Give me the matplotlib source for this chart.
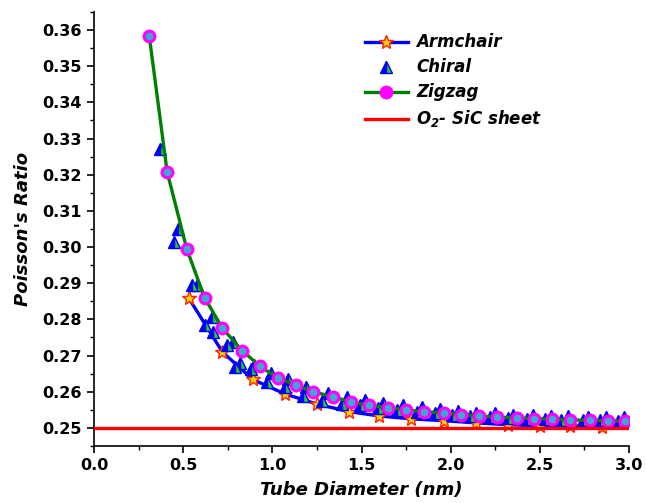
import numpy as np
import matplotlib
matplotlib.use('Agg')
import matplotlib.pyplot as plt
from matplotlib.ticker import MultipleLocator, FormatStrFormatter
from matplotlib.lines import Line2D

plt.rcParams['font.family'] = 'DejaVu Sans'
plt.rcParams['mathtext.default'] = 'regular'

# Armchair tubes (diameter nm, Poisson's ratio)
arm_d = [0.53, 0.72, 0.89, 1.07, 1.25, 1.43, 1.60, 1.78, 1.96, 2.14, 2.32, 2.50, 2.67, 2.85]
arm_v = [0.2860, 0.2710, 0.2634, 0.2594, 0.2566, 0.2545, 0.2533, 0.2525, 0.2520, 0.2514,
         0.2509, 0.2506, 0.2504, 0.2503]

# Chiral tubes
chi_d = [0.37, 0.45, 0.47, 0.55, 0.58, 0.62, 0.66, 0.67, 0.745, 0.78, 0.79, 0.82,
         0.88, 0.90, 0.97, 0.99, 1.07, 1.09, 1.17, 1.19, 1.28, 1.31, 1.39, 1.42,
         1.49, 1.52, 1.59, 1.62, 1.70, 1.73, 1.81, 1.84, 1.91, 1.94, 2.01, 2.04,
         2.11, 2.14, 2.22, 2.25, 2.32, 2.35, 2.43, 2.46, 2.53, 2.56, 2.62, 2.66,
         2.74, 2.77, 2.84, 2.87, 2.94, 2.97]
chi_v = [0.3270, 0.3015, 0.3050, 0.2895, 0.2895, 0.2785, 0.2807, 0.2765, 0.2730, 0.2738,
         0.2669, 0.2680, 0.2662, 0.2675, 0.2627, 0.2652, 0.2612, 0.2636, 0.2588, 0.2612,
         0.2574, 0.2596, 0.2567, 0.2585, 0.2562, 0.2577, 0.2555, 0.2570, 0.2549, 0.2563,
         0.2544, 0.2557, 0.2540, 0.2551, 0.2536, 0.2546, 0.2533, 0.2542, 0.2530, 0.2540,
         0.2528, 0.2537, 0.2526, 0.2535, 0.2524, 0.2533, 0.2523, 0.2532, 0.2522, 0.2531,
         0.2521, 0.2530, 0.2520, 0.2529]

# Zigzag tubes
zig_d = [0.31, 0.41, 0.52, 0.62, 0.72, 0.83, 0.93, 1.03, 1.13, 1.23, 1.34, 1.44, 1.54,
         1.65, 1.75, 1.85, 1.96, 2.06, 2.16, 2.26, 2.37, 2.47, 2.57, 2.67, 2.78, 2.88, 2.98]
zig_v = [0.3583, 0.3208, 0.2995, 0.2860, 0.2776, 0.2714, 0.2671, 0.2638, 0.2619, 0.2600,
         0.2586, 0.2572, 0.2563, 0.2556, 0.2550, 0.2545, 0.2541, 0.2537, 0.2533, 0.2530,
         0.2528, 0.2526, 0.2524, 0.2522, 0.2521, 0.2520, 0.2519]

# O2-SiC sheet value
sheet_d = [0.0, 3.0]
sheet_v = [0.25, 0.25]

fig = plt.figure(figsize=(6.46, 5.03), dpi=100)
ax = fig.add_axes([0.1455, 0.1133, 0.8282, 0.863])

star_kw = dict(marker='*', markersize=10, markerfacecolor='#ffd200',
               markeredgecolor='#ff2000', markeredgewidth=1.0)
tri_kw = dict(marker='^', markersize=8.5, fillstyle='left', markerfacecolor='#0000ff',
              markerfacecoloralt='#22cc22', markeredgecolor='#0000ff', markeredgewidth=1.0)
circ_kw = dict(marker='o', markersize=9.5, markerfacecolor='#ff00ff',
               markeredgecolor='#ff00ff', markeredgewidth=0.5)

ax.plot(arm_d, arm_v, color='#0000ff', linewidth=2.4, **star_kw)
ax.plot(chi_d, chi_v, linestyle='none', **tri_kw)
ax.plot(zig_d, zig_v, color='#008000', linewidth=2.4, **circ_kw)
# cyan highlight inside the zigzag circles
ax.plot(zig_d, zig_v, linestyle='none', marker='o', markersize=4.5,
        markerfacecolor='#3aa8d0', markeredgecolor='#3aa8d0', zorder=3)
ax.plot(sheet_d, sheet_v, color='#ff0000', linewidth=2.4, zorder=3)

ax.set_xlim(0.0, 3.0)
ax.set_ylim(0.245, 0.365)
ax.xaxis.set_major_locator(MultipleLocator(0.5))
ax.xaxis.set_minor_locator(MultipleLocator(0.25))
ax.yaxis.set_major_locator(MultipleLocator(0.01))
ax.yaxis.set_minor_locator(MultipleLocator(0.005))
ax.xaxis.set_major_formatter(FormatStrFormatter('%.1f'))
ax.yaxis.set_major_formatter(FormatStrFormatter('%.2f'))
ax.spines['top'].set_visible(False)
ax.spines['right'].set_visible(False)
ax.spines['left'].set_linewidth(1.2)
ax.spines['bottom'].set_linewidth(1.2)
ax.tick_params(which='major', direction='out', length=5, width=1.2, labelsize=11.5)
ax.tick_params(which='minor', direction='out', length=3, width=1.0)
for lab in ax.get_xticklabels() + ax.get_yticklabels():
    lab.set_fontweight('bold')

ax.set_xlabel('Tube Diameter (nm)', fontsize=13, fontweight='bold', fontstyle='italic', labelpad=6)
ax.set_ylabel("Poisson's Ratio", fontsize=13, fontweight='bold', fontstyle='italic', labelpad=8)

handles = [
    Line2D([], [], color='#0000ff', linewidth=2.4, **star_kw),
    Line2D([], [], linestyle='none', **tri_kw),
    Line2D([], [], color='#008000', linewidth=2.4, **circ_kw),
    Line2D([], [], color='#ff0000', linewidth=2.4),
]
labels = ['Armchair', 'Chiral', 'Zigzag', 'O$_2$- SiC sheet']
ax.legend(handles, labels, loc='upper left', bbox_to_anchor=(0.478, 0.985), frameon=False,
          prop=dict(weight='bold', style='italic', size=12), handlelength=2.6,
          labelspacing=0.42, handletextpad=0.5)

fig.savefig('out.png', dpi=100)
